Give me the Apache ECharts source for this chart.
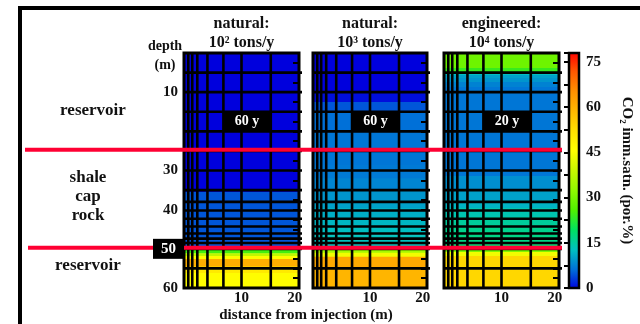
<!DOCTYPE html>
<html><head><meta charset="utf-8">
<script src="https://cdn.jsdelivr.net/npm/echarts@6/dist/echarts.min.js"></script>
<style>html,body{margin:0;padding:0;background:#fff}#c{width:640px;height:324px}</style>
</head><body><div id="c"></div>
<script>
// ---------------- data ----------------
const panelTitles = ['natural:\n10² tons/y', 'natural:\n10³ tons/y', 'engineered:\n10⁴ tons/y'];
const ageLabels = ['60 y', '60 y', '20 y'];
const depthTickLabels = [10, 30, 40, 50, 60];
const distanceTickLabels = [10, 20];
const colorbarTickLabels = [0, 15, 30, 45, 60, 75];
// simulation mesh (distance, m) and (depth, m)
const meshX = [0, 0.75, 1.7, 3.6, 6.6, 10, 15.5];
const meshDepth = [5, 10, 15, 20, 25, 30, 35, 38, 40.2, 42.3, 44.3, 46.1, 47.4, 48.5, 50, 55];
// CO2 saturation bands: [top depth, bottom depth, saturation %]
const bands1 = [[0,35.5,0],[35.5,50,5],[50,51.1,25],[51.1,51.8,38],[51.8,52.6,46],[52.6,54.4,60],[54.4,55.1,56],[55.1,56.2,50],[56.2,60,46]];
const bands2 = [[0,10,0],[10,12.5,0.8],[12.5,15,5],[15,20,6.5],[20,28.6,7],[28.6,32,7.3],[32,35,8.2],[35,37.5,9.5],[37.5,39.6,10.5],[39.6,42,11.5],[42,44,12.2],[44,46.5,12.8],[46.5,50,13.3],[50,51,35],[51,52,44],[52,55,61],[55,60,59]];
const bands3 = [[0,3.8,29],[3.8,4.9,24],[4.9,5.6,13],[5.6,6.4,10.5],[6.4,7.4,9.5],[7.4,8.7,8],[8.7,31.4,7],[31.4,35,9],[35,37.5,10.5],[37.5,39.6,12],[39.6,41.9,14],[41.9,43.9,15.5],[43.9,45.7,16.5],[45.7,48.5,17],[48.5,50,18],[50,50.8,31],[50.8,51.8,44],[51.8,60,53.5]];
const capRockDepths = [24.7, 49.7];
const ageBoxX = [6.6, 15.5];
const ageBoxDepth = [15, 20];
const colorStops = ['#0000dd','#0070d8','#00c0c0','#00e060','#50f000','#90f800','#c8f800','#ffff00','#ffe000','#ffb800','#ff9000','#ff5800','#ff0000'];

// ---------------- layout/style ----------------
const X_MIN = -0.8, X_MAX = 20.8, D_MAX = 60, S_MAX = 78;
const FONT = '"Liberation Serif","DejaVu Serif",serif';
const grids = [
  {left:184, top:53, width:115, height:235},
  {left:313, top:53, width:114, height:235},
  {left:444, top:53, width:115, height:235},
  {left:569, top:53, width:10, height:235}
];
const allBands = [bands1, bands2, bands3];

function renderBand(params, api) {
  const a = api.coord([api.value(0), api.value(2)]);
  const b = api.coord([api.value(1), api.value(3)]);
  return {type:'rect', shape:{x:a[0], y:a[1], width:b[0]-a[0], height:b[1]-a[1]+0.6},
    style:{fill: api.visual('color')}};
}
function renderMesh(params, api) {
  const t = api.value(0), v = api.value(1);
  if (t === 0) {
    const a = api.coord([v, 0]), b = api.coord([v, D_MAX]);
    return {type:'line', shape:{x1:a[0], y1:a[1], x2:b[0], y2:b[1]}, style:{stroke:'#000', lineWidth:2.6}};
  }
  if (t === 1) {
    const a = api.coord([X_MIN, v]), b = api.coord([X_MAX, v]);
    return {type:'line', shape:{x1:a[0], y1:a[1], x2:b[0]+3, y2:b[1]}, style:{stroke:'#000', lineWidth:2.6}};
  }
  const a = api.coord([X_MIN, 0]), b = api.coord([X_MAX, D_MAX]);
  return {type:'rect', shape:{x:a[0], y:a[1], width:b[0]-a[0], height:b[1]-a[1]}, style:{fill:'none', stroke:'#000', lineWidth:3}};
}
function makeAgeRender(label) {
  return function (params, api) {
    const a = api.coord([api.value(0), api.value(2)]);
    const b = api.coord([api.value(1), api.value(3)]);
    return {type:'group', children:[
      {type:'rect', shape:{x:a[0], y:a[1], width:b[0]-a[0], height:b[1]-a[1]}, style:{fill:'#000'}},
      {type:'text', style:{text:label, x:(a[0]+b[0])/2, y:(a[1]+b[1])/2, align:'center', verticalAlign:'middle',
        fill:'#fff', font:'bold 14px ' + FONT}}
    ]};
  };
}

const xAxis = [0,1,2].map(i => ({
  gridIndex:i, type:'value', min:X_MIN, max:X_MAX, position:'bottom',
  axisLine:{show:false}, axisTick:{show:false}, splitLine:{show:false},
  axisLabel:{customValues:distanceTickLabels, margin:3, color:'#111', fontSize:15, fontWeight:'bold', fontFamily:FONT}
}));
xAxis.push({gridIndex:3, type:'value', min:0, max:1, show:false});

const yAxis = [0,1,2].map(i => ({
  gridIndex:i, type:'value', min:0, max:D_MAX, inverse:true, position:'left', z: i===0 ? 10 : 0,
  axisLine:{show:false}, axisTick:{show:false}, splitLine:{show:false},
  axisLabel: i === 0 ? {
    customValues: depthTickLabels, margin:0,
    formatter: v => v === 50 ? '{box|' + v + '}' : '{n|' + v + '}',
    rich:{
      n:{padding:[0,6,0,0], color:'#111', fontSize:15, fontWeight:'bold', fontFamily:FONT},
      box:{backgroundColor:'#000', color:'#fff', padding:[3,8,2,8], fontSize:15, fontWeight:'bold', fontFamily:FONT}
    }
  } : {show:false}
}));
yAxis.push({
  gridIndex:3, type:'value', min:0, max:S_MAX, interval:7.5, position:'right', z:5,
  axisLine:{show:false}, splitLine:{show:false},
  axisTick:{show:true, inside:true, length:5, lineStyle:{color:'#000', width:2}},
  axisLabel:{customValues:colorbarTickLabels, margin:7, color:'#111', fontSize:15, fontWeight:'bold', fontFamily:FONT},
  name:'CO₂ imm.satn. (por.%)', nameLocation:'middle', nameRotate:-90, nameGap:40,
  nameTextStyle:{color:'#111', fontSize:15, fontWeight:'bold', fontFamily:FONT}
});
// right-side tick axes
[0,1,2].forEach(i => yAxis.push({
  gridIndex:i, type:'value', min:0, max:D_MAX, inverse:true, interval:2.5, position:'right', z:5,
  axisLine:{show:false}, splitLine:{show:false}, axisLabel:{show:false},
  axisTick:{show:true, inside:true, length:6, lineStyle:{color:'#000', width:2}}
}));

const series = [];
allBands.forEach((b, i) => series.push({
  type:'custom', name:'band'+i, xAxisIndex:i, yAxisIndex:i, z:1, silent:true,
  renderItem: renderBand,
  data: b.map(r => [X_MIN, X_MAX, r[0], r[1], r[2]])
}));
[0,1,2].forEach(i => series.push({
  type:'custom', name:'mesh'+i, xAxisIndex:i, yAxisIndex:i, z:2, silent:true,
  renderItem: renderMesh,
  data: meshX.map(v => [0, v]).concat(meshDepth.map(v => [1, v])).concat([[2, 0]])
}));
[0,1,2].forEach(i => series.push({
  type:'custom', name:'age'+i, xAxisIndex:i, yAxisIndex:i, z:4, silent:true,
  renderItem: makeAgeRender(ageLabels[i]),
  data: [[ageBoxX[0], ageBoxX[1], ageBoxDepth[0], ageBoxDepth[1]]]
}));
series.push({
  type:'custom', name:'colorbar', xAxisIndex:3, yAxisIndex:3, z:2, silent:true,
  renderItem: function (params, api) {
    const a = api.coord([0, S_MAX]), b = api.coord([1, 0]);
    const n = colorStops.length;
    return {type:'rect', shape:{x:a[0], y:a[1], width:b[0]-a[0], height:b[1]-a[1]},
      style:{fill:new echarts.graphic.LinearGradient(0,1,0,0, colorStops.map((c,k)=>({offset:k/(n-1), color:c}))),
        stroke:'#000', lineWidth:2.5}};
  },
  data:[[0]]
});

const textStyle = (t, x, y, size) => ({type:'text', x:x, y:y, z:20,
  style:{text:t, align:'center', verticalAlign:'middle', fill:'#111', font:'bold ' + (size||16) + 'px ' + FONT, lineHeight:19}});

const chart = echarts.init(document.getElementById('c'), null, {renderer:'canvas'});
chart.setOption({
  animation:false,
  backgroundColor:'#fff',
  grid: grids.map(g => Object.assign({containLabel:false}, g)),
  xAxis, yAxis,
  visualMap:{type:'continuous', show:false, min:0, max:S_MAX, dimension:4, seriesIndex:[0,1,2], inRange:{color:colorStops}},
  series
});

const centers = [0,1,2].map(i => grids[i].left + grids[i].width / 2);
const graphics = [
  {type:'rect', shape:{x:20, y:8, width:700, height:400}, z:0, style:{fill:'none', stroke:'#000', lineWidth:4}}
];
panelTitles.forEach((t, i) => graphics.push(textStyle(t, centers[i], 33, 16)));
graphics.push(textStyle('depth\n(m)', 165, 56, 14));
graphics.push(textStyle('reservoir', 93, 111, 17));
graphics.push(textStyle('shale\ncap\nrock', 88, 197, 17));
graphics.push(Object.assign(textStyle('reservoir', 88, 266, 17)));
graphics.push(textStyle('distance from injection (m)', 306, 315, 15));
capRockDepths.forEach((d, k) => {
  const y = chart.convertToPixel({yAxisIndex:0}, d);
  graphics.push({type:'line', z:6, shape:{x1: k === 0 ? 25 : 28, y1:y, x2:562, y2:y}, style:{stroke:'#ff0033', lineWidth:4}});
});
chart.setOption({graphic: graphics});
</script></body></html>
